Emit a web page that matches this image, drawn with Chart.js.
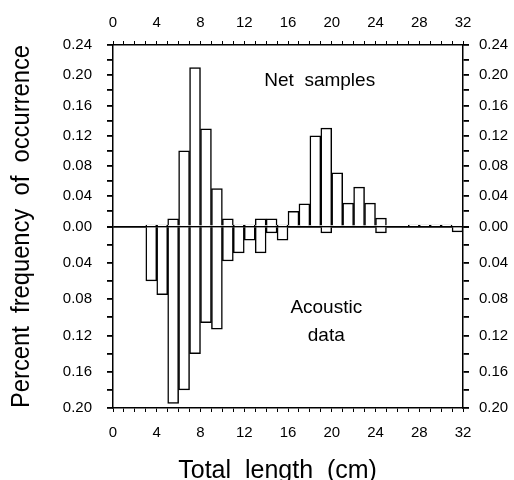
<!DOCTYPE html>
<html>
<head>
<meta charset="utf-8">
<script src="https://cdn.jsdelivr.net/npm/chart.js@4"></script>
<style>
  body { margin: 0; background: #fff; }
</style>
</head>
<body>
<canvas id="lengthChart" width="514" height="480"></canvas>
<script>
'use strict';

// length classes, lower edge in cm (each bar is 1 cm wide)
const lengthBins = [0, 1, 2, 3, 4, 5, 6, 7, 8, 9, 10, 11, 12, 13, 14, 15,
  16, 17, 18, 19, 20, 21, 22, 23, 24, 25, 26, 27, 28, 29, 30, 31];

// upper panel
const netSamples = [0, 0, 0, 0.002, 0.002, 0.01, 0.10, 0.21, 0.129, 0.05, 0.01, 0.002,
  0.002, 0.01, 0.01, 0.002, 0.02, 0.03, 0.12, 0.13, 0.071, 0.031, 0.052, 0.031,
  0.011, 0, 0, 0.002, 0.002, 0.002, 0.002, 0];

// lower panel (drawn downwards)
const acousticData = [0, 0, 0, 0.06, 0.075, 0.195, 0.18, 0.14, 0.106, 0.113, 0.038, 0.029,
  0.015, 0.029, 0.007, 0.015, 0, 0, 0, 0.007, 0, 0, 0, 0,
  0.007, 0, 0, 0, 0, 0, 0, 0.006];

// labelled ticks
const xLabels = [0, 4, 8, 12, 16, 20, 24, 28, 32];
const netLabels = [0, 0.04, 0.08, 0.12, 0.16, 0.20, 0.24];
const acousticLabels = [0.04, 0.08, 0.12, 0.16, 0.20];

Chart.defaults.font.family = '"Liberation Sans", Arial, sans-serif';
Chart.defaults.color = '#000';

const hasLabel = (list, v) => list.some(l => Math.abs(l - v) < 1e-6);

const frame = { display: true, color: '#000', width: 1.5 };
const tickFont = { size: 15 };

const xAxis = (position, height, pad) => ({
  type: 'linear',
  position: position,
  min: 0,
  max: 32,
  offset: false,
  grid: { drawOnChartArea: false, offset: false, tickLength: 4, color: '#000' },
  border: frame,
  ticks: {
    stepSize: 1,
    autoSkip: false,
    maxRotation: 0,
    padding: pad,
    font: tickFont,
    callback: v => hasLabel(xLabels, v) ? String(v) : '',
  },
  afterFit: s => { s.height = height; },
});

const yAxis = (position, stack, max, reverse, labels, width, zeroLine) => ({
  type: 'linear',
  position: position,
  stack: stack,
  stackWeight: 1,
  min: 0,
  max: max,
  reverse: reverse,
  z: zeroLine ? 1 : 0,
  grid: {
    drawOnChartArea: zeroLine,
    tickLength: 6,
    color: c => (zeroLine && c.tick && c.tick.value === 0) ? '#000' : 'rgba(0,0,0,0)',
    tickColor: '#000',
    lineWidth: 1.8,
  },
  border: frame,
  ticks: {
    stepSize: 0.02,
    autoSkip: false,
    padding: position === 'left' ? 15 : 10,
    font: tickFont,
    callback: v => hasLabel(labels, v) ? v.toFixed(2) : '',
  },
  afterFit: s => { s.width = width; },
});

const barStyle = {
  backgroundColor: '#fff',
  borderColor: '#000',
  borderWidth: 1.5,
  borderSkipped: 'start',
  barPercentage: 1,
  categoryPercentage: 1,
  grouped: false,
};

const panelLabels = {
  id: 'panelLabels',
  afterDraw(chart) {
    const { ctx, scales } = chart;
    ctx.save();
    ctx.font = '19px "Liberation Sans", Arial, sans-serif';
    ctx.fillStyle = '#000';
    ctx.textAlign = 'center';
    ctx.textBaseline = 'middle';
    ctx.fillText('Net  samples', scales.x.getPixelForValue(18.9), scales.yNet.getPixelForValue(0.193));
    ctx.fillText('Acoustic', scales.x.getPixelForValue(19.5), scales.yAcoustic.getPixelForValue(0.089));
    ctx.fillText('data', scales.x.getPixelForValue(19.5), scales.yAcoustic.getPixelForValue(0.12));
    ctx.restore();
  },
};

const ctx = document.querySelector('#lengthChart');

const lengthChart = new Chart(ctx, {
  type: 'bar',
  data: {
    datasets: [
      {
        label: 'Net samples',
        data: lengthBins.map((b, i) => ({ x: b + 0.5, y: netSamples[i] })),
        xAxisID: 'x',
        yAxisID: 'yNet',
        ...barStyle,
      },
      {
        label: 'Acoustic data',
        data: lengthBins.map((b, i) => ({ x: b + 0.5, y: acousticData[i] })),
        xAxisID: 'x',
        yAxisID: 'yAcoustic',
        ...barStyle,
      },
    ],
  },
  options: {
    responsive: false,
    animation: false,
    layout: { padding: 0 },
    plugins: {
      legend: { display: false },
      tooltip: { enabled: false },
      title: {
        display: true,
        position: 'left',
        fullSize: false,
        text: 'Percent  frequency  of  occurrence',
        color: '#000',
        font: { size: 25, weight: 'normal' },
        padding: { top: 7, bottom: 11 },
      },
    },
    scales: {
      x: {
        ...xAxis('bottom', 72, 12),
        title: {
          display: true,
          text: 'Total  length  (cm)   ',
          color: '#000',
          font: { size: 25, lineHeight: 0.7 },
          padding: 0,
        },
      },
      xTop: xAxis('top', 45, 9),
      // left stack is laid out in reverse order: the later one ends up on top
      yAcoustic: yAxis('left', 'left', 0.20, true, acousticLabels, 65, false),
      yNet: yAxis('left', 'left', 0.24, false, netLabels, 65, true),
      yNetR: yAxis('right', 'right', 0.24, false, netLabels, 51, false),
      yAcousticR: yAxis('right', 'right', 0.20, true, acousticLabels, 51, false),
    },
  },
  plugins: [panelLabels],
});
</script>
</body>
</html>
